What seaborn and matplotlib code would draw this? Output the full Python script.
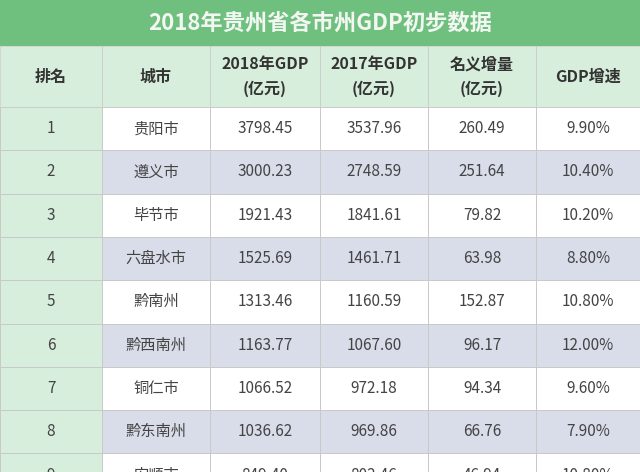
import matplotlib
matplotlib.use("Agg")
import matplotlib.pyplot as plt
from matplotlib import font_manager
import seaborn as sns
import numpy as np
from matplotlib.colors import ListedColormap
from matplotlib.patches import Rectangle

sns.set_style("white")
# pick an installed sans CJK family by its registered name
cjk = sorted({f.name for f in font_manager.fontManager.ttflist
              if "CJK" in f.name and "Sans" in f.name})
sc = [c for c in cjk if "SC" in c] or [c for c in cjk if "JP" in c] or cjk
plt.rcParams["font.family"] = "sans-serif"
plt.rcParams["font.sans-serif"] = sc[:1] + ["DejaVu Sans"]

# Table data
title = "2018年贵州省各市州GDP初步数据"
headers = ["排名", "城市", "2018年GDP\n(亿元)", "2017年GDP\n(亿元)", "名义增量\n(亿元)", "GDP增速"]
ranks = ["1", "2", "3", "4", "5", "6", "7", "8", "9"]
cities = ["贵阳市", "遵义市", "毕节市", "六盘水市", "黔南州", "黔西南州", "铜仁市", "黔东南州", "安顺市"]
gdp_2018 = ["3798.45", "3000.23", "1921.43", "1525.69", "1313.46", "1163.77", "1066.52", "1036.62", "849.40"]
gdp_2017 = ["3537.96", "2748.59", "1841.61", "1461.71", "1160.59", "1067.60", "972.18", "969.86", "802.46"]
increase = ["260.49", "251.64", "79.82", "63.98", "152.87", "96.17", "94.34", "66.76", "46.94"]
growth = ["9.90%", "10.40%", "10.20%", "8.80%", "10.80%", "12.00%", "9.60%", "7.90%", "10.80%"]

W, H = 640, 472
col_edges = [0, 102, 210, 320, 428, 536, 640]
title_h = 46
header_h = 61
row_h = 43.3

fig = plt.figure(figsize=(6.4, 4.72), dpi=100)

n = len(ranks)
kind = np.ones((n, 6))
kind[1::2, 1:] = 2
kind[:, 0] = 0
body_top = title_h + header_h
cmap = ListedColormap(["#d6eedb", "#ffffff", "#d9dde9"])
cols = [ranks, cities, gdp_2018, gdp_2017, increase, growth]
centers = [(col_edges[i] + col_edges[i + 1]) / 2 for i in range(6)]

# one heatmap axes per column so each column gets its own width
for j in range(6):
    ax = fig.add_axes([col_edges[j] / W, 1 - (body_top + n * row_h) / H,
                       (col_edges[j + 1] - col_edges[j]) / W, n * row_h / H])
    sns.heatmap(kind[:, j:j + 1], ax=ax, cmap=cmap, vmin=-0.5, vmax=2.5, cbar=False,
                linewidths=0.5, linecolor="#c9c9c9", xticklabels=False, yticklabels=False,
                annot=np.array(cols[j]).reshape(-1, 1), fmt="",
                annot_kws={"fontsize": 11})
    for t in ax.texts:
        t.set_color("#444444")

# title bar
fig.patches.append(Rectangle((0, 1 - title_h / H), 1, title_h / H, transform=fig.transFigure,
                             facecolor="#6fc07f", edgecolor="none", zorder=0))
fig.text(0.5, 1 - title_h / 2 / H, title, ha="center", va="center", fontsize=16,
         color="#f2f7f2", fontweight="bold")

# header
for j in range(6):
    fig.patches.append(Rectangle((col_edges[j] / W, 1 - body_top / H),
                                 (col_edges[j + 1] - col_edges[j]) / W, header_h / H,
                                 transform=fig.transFigure, facecolor="#d6eedb",
                                 edgecolor="#c9c9c9", linewidth=0.5, zorder=0))
    fig.text(centers[j] / W, 1 - (title_h + header_h / 2) / H, headers[j], ha="center",
             va="center", fontsize=11.5, fontweight="bold", color="#333333", linespacing=1.6)

fig.savefig("out.png", dpi=100)
